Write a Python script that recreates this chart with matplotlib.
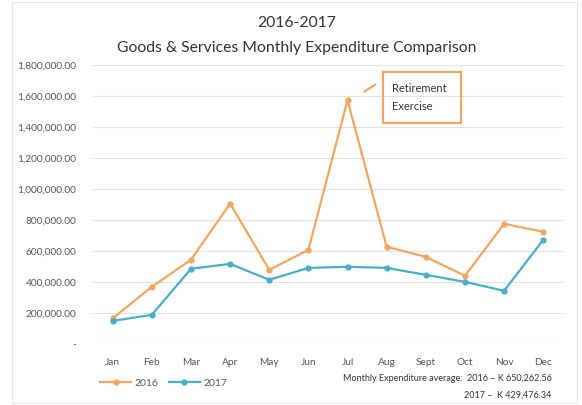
import matplotlib.pyplot as plt
import matplotlib.ticker as tck
import numpy as np

months = ['Jan', 'Feb', 'Mar', 'Apr', 'May', 'Jun', 'Jul', 'Aug', 'Sept', 'Oct', 'Nov', 'Dec']
spend_2016 = [165000, 368000, 542000, 905000, 477000, 606000, 1572000, 626000, 561000, 439000, 774000, 723000]
spend_2017 = [148000, 187000, 484000, 516000, 413000, 490000, 497000, 490000, 445000, 400000, 342000, 671000]
avg_2016 = 'K 650,262.56'
avg_2017 = 'K 429,476.34'

orange = '#F3A661'
blue = '#4AAEC9'

plt.rcParams['font.family'] = ['Lato', 'DejaVu Sans']

fig = plt.figure(figsize=(5.82, 4.05), dpi=100)
ax = fig.add_axes([0.16, 0.151, 0.807, 0.689])

x = np.arange(len(months))
ax.plot(x, spend_2016, color=orange, lw=1.6, marker='o', ms=3.5, label='2016')
ax.plot(x, spend_2017, color=blue, lw=1.6, marker='o', ms=3.5, label='2017')

ax.set_xlim(-0.5, 11.5)
ax.set_ylim(0, 1800000)
ax.set_xticks(x)
ax.set_xticklabels(months)
ax.yaxis.set_major_locator(tck.MultipleLocator(200000))
ax.yaxis.set_major_formatter(tck.FuncFormatter(lambda v, p: '-' if v == 0 else f'{v:,.2f}'))
ax.tick_params(length=0, labelsize=7.3, colors='#555555', pad=12)
ax.tick_params(axis='x', pad=10)
ax.grid(True, axis='y', color='#e2e2e2', lw=0.8)
for s in ax.spines.values():
    s.set_visible(False)

fig.text(0.51, 0.943, '2016-2017', ha='center', va='center', fontsize=11.3, color='#333333')
fig.text(0.51, 0.882, 'Goods & Services Monthly Expenditure Comparison', ha='center', va='center',
         fontsize=11.3, color='#333333')

# callout for the July peak
ax.annotate('', xy=(0.622, 0.770), xytext=(0.649, 0.795), xycoords='figure fraction',
            textcoords='figure fraction', arrowprops=dict(arrowstyle='-', color=orange, lw=1.6))
fig.add_artist(plt.Rectangle((0.658, 0.696), 0.134, 0.126, transform=fig.transFigure,
                             fill=False, ec=orange, lw=1.6))
fig.text(0.674, 0.760, 'Retirement\nExercise', ha='left', va='center', fontsize=8, color='#333333',
         linespacing=1.8)

ax.legend(loc='upper center', bbox_to_anchor=(0.15, -0.09), ncol=2, frameon=False,
          fontsize=7.5, labelcolor='#555555', handlelength=3, columnspacing=1.0, handletextpad=0.3)

fig.text(0.948, 0.066, f'Monthly Expenditure average:  2016 \u2013 {avg_2016}', ha='right',
         va='center', fontsize=6.5, color='#333333')
fig.text(0.948, 0.025, f'2017 \u2013  {avg_2017}', ha='right', va='center', fontsize=6.5,
         color='#333333')

fig.add_artist(plt.Rectangle((0.02, 0.005), 0.972, 0.99, transform=fig.transFigure,
                             fill=False, ec='#e4e4e4', lw=0.8))

fig.savefig('out.png', dpi=100)
